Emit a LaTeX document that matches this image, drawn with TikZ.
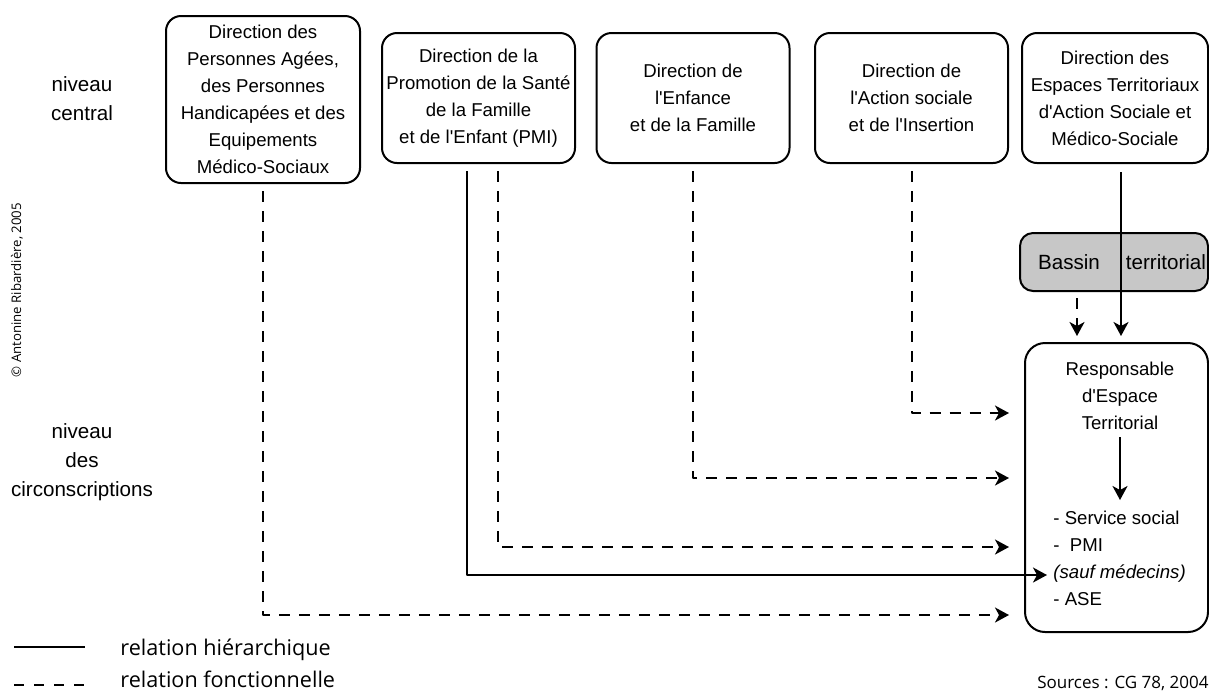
\documentclass[tikz,border=0pt]{standalone}
\usepackage{fontspec}
\setmainfont{Liberation Sans}[Ligatures=TeXOff]
\newfontfamily\legendfont{Open Sans}
\usepackage{tikz}
\usetikzlibrary{arrows.meta,positioning,calc}
\tikzset{
    every picture/.style={line join=round},
    dirbox/.style={draw,line width=1pt,rounded corners=7.5pt,
      minimum width=96.5pt,minimum height=65pt,inner sep=1pt,
      align=center,font=\fontsize{9.3}{13.5}\selectfont},
    bassinbox/.style={draw,fill=black!22,line width=1pt,rounded corners=6.5pt,
      minimum height=29pt,text width=92pt,inner xsep=1pt,align=right,
      font=\fontsize{10.3}{12}\selectfont},
    respbox/.style={draw,line width=1pt,rounded corners=10pt,
      minimum width=91.5pt,minimum height=144.5pt},
    boxtext/.style={inner sep=1.5pt,align=center,font=\fontsize{9.3}{13.5}\selectfont},
    lvltext/.style={align=center,font=\fontsize{10.3}{14.5}\selectfont},
    legendtext/.style={inner sep=0pt,font=\legendfont\fontsize{10.8}{12}\selectfont},
    hier/.style={line width=1pt,-{Stealth[length=7pt,width=7.5pt,inset=2pt]}},
    fonc/.style={hier,dash pattern=on 5.5pt off 4.5pt}
}

\begin{document}
\begin{tikzpicture}[x=0.5pt,y=-0.5pt]
  \useasboundingbox (0,0) rectangle (1209,693);
  % niveaux
  \node[lvltext] (central) at (82,99) {niveau\\central};
  \node[lvltext] (circ) at (82,462) {niveau\\des\\circonscriptions};
  \node[rotate=90,inner sep=0pt,font=\legendfont\fontsize{6.6}{8}\selectfont] (copy) at (17,290) {© Antonine Ribardière, 2005};
  % directions centrales
  \node[dirbox,minimum width=97pt,minimum height=83.5pt] (d1) at (263,99.5)
    {Direction des\\Personnes Agées,\\des Personnes\\Handicapées et des\\Equipements\\Médico-Sociaux};
  \node[dirbox] (d2) at (478.5,98) {Direction de la\\Promotion de la Santé\\de la Famille\\et de l'Enfant (PMI)};
  \node[dirbox] (d3) at (693,98) {Direction de\\l'Enfance\\et de la Famille};
  \node[dirbox] (d4) at (911.5,98) {Direction de\\l'Action sociale\\et de l'Insertion};
  \node[dirbox,minimum width=93pt] (d5) at (1115,98) {Direction des\\Espaces Territoriaux\\d'Action Sociale et\\Médico-Sociale};
  % circonscription
  \node[bassinbox] (bassin) at (1114,262) {Bassin\hspace{13pt}territorial};
  \node[respbox] (resp) at (1116.5,487.5) {};
  \node[boxtext] (ret) at (1120,396) {Responsable\\d'Espace\\Territorial};
  \node[boxtext,align=left,anchor=north west] (serv) at (1050,508)
    {- Service social\\-\ \ PMI\\\textit{(sauf médecins)}\\- ASE};
  % liens
  \coordinate (t5) at ([xshift=3pt]d5.south);
  \coordinate (tb) at ([xshift=-18.5pt]bassin.south);
  \coordinate (f2) at ([xshift=9.75pt]d2.south);
  \coordinate (h2) at ([xshift=-5.75pt]d2.south);
  \draw[hier,shorten <=4pt,shorten >=3pt] (t5) -- (t5 |- resp.north);
  \draw[fonc,shorten <=3pt,shorten >=3pt] (tb) -- (tb |- resp.north);
  \draw[hier,shorten <=2pt,shorten >=4pt] (ret) -- (ret |- serv.north);
  \draw[fonc,shorten <=3.5pt,shorten >=7.5pt] (d4) |- (resp.west |- 0,413);
  \draw[fonc,shorten <=3.5pt,shorten >=7.5pt] (d3) |- (resp.west |- 0,478);
  \draw[fonc,shorten <=3.5pt,shorten >=7.5pt] (f2) |- (resp.west |- 0,547);
  \draw[hier,shorten <=3.5pt,shorten >=1.5pt] (h2) |- (serv.west |- 0,575);
  \draw[fonc,shorten <=3.5pt,shorten >=7.5pt] (d1) |- (resp.west |- 0,615);
  % legende
  \coordinate (lh1) at (14,647); \coordinate (lh2) at (85,647);
  \coordinate (lf1) at (14,685); \coordinate (lf2) at (85,685);
  \draw[line width=1pt] (lh1) -- (lh2);
  \draw[line width=1pt,dash pattern=on 5pt off 5pt] (lf1) -- (lf2);
  \node[legendtext,anchor=base west] (lhier) at (120,655) {relation hiérarchique};
  \node[legendtext,anchor=base west] (lfonc) at (120,687) {relation fonctionnelle};
  \node[legendtext,anchor=base east,font=\legendfont\fontsize{8.5}{11}\selectfont] (src) at (1209,688) {Sources : CG 78, 2004};
\end{tikzpicture}
\end{document}
